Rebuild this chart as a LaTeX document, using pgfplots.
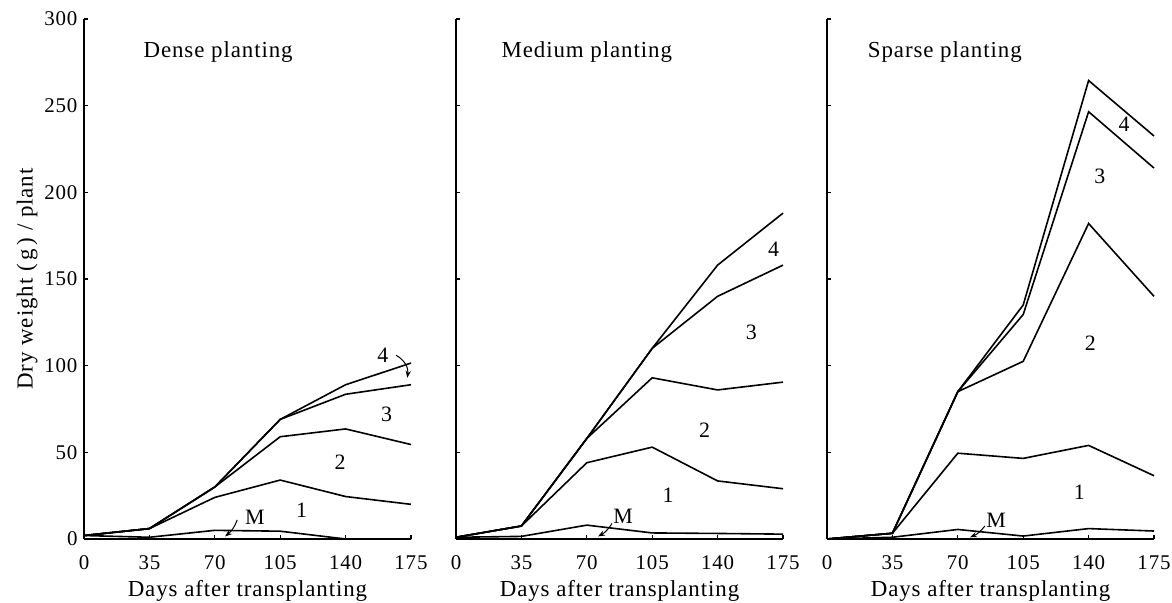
\documentclass[border=0pt]{standalone}
\usepackage{fontspec}
\setmainfont{Liberation Serif}[LetterSpace=4]
\usepackage{pgfplots}
\pgfplotsset{compat=1.18}
\usetikzlibrary{arrows.meta}

\pgfplotstableread{
x   M    a    b    c    d
0   2    2    2    2    2
35  1    6    6    6    6
70  5    24   30   30   30
105 4.5  34   59   69   69
140 0    24.5 63.5 83.5 89
175 0    20   54.5 89   101.5
}\dense
\pgfplotstableread{
x   M    a    b    c    d
0   1    1    1    1    1
35  1.5  7.5  7.5  7.5  7.5
70  8    44   58   58   58
105 3.5  53   93   110  110
140 3.2  33.5 86   140  158
175 2.8  29   90.5 158  188
}\medium
\pgfplotstableread{
x   M    a    b    c     d
0   0    0    0    0     0
35  1    3.3  3.3  3.3   3.3
70  5.5  49.5 85   85    85
105 1.7  46.5 102.5 129.5 135
140 6    54   182  246.5 264.5
175 4.6  36.5 140  214   232.5
}\sparse

\pgfplotscreateplotcyclelist{blk}{black,line width=1.6bp\\}
\pgfplotsset{
  panel/.style={
    scale only axis, width=327bp, height=520bp,
    xmin=0, xmax=175, ymin=0, ymax=300,
    axis lines=left, axis line style={-, line width=1.6bp},
    xtick={0,35,70,105,140,175}, ytick={0,50,...,300},
    major tick length=4bp, tick style={line width=1.2bp, black},
    tick align=inside,
    /pgf/number format/assume math mode=true,
    ticklabel style={font=\fontsize{21}{24}\selectfont},
    xticklabel style={yshift=-13bp},
    yticklabel style={xshift=-3bp},
    label style={font=\fontsize{23}{26}\selectfont},
    xlabel={Days after transplanting},
    xlabel style={yshift=-4bp},
    cycle list name=blk,
    clip=false,
  },
}
\newcommand\ttl{\fontsize{23}{26}\selectfont}
\newcommand\lbl{\fontsize{22}{25}\selectfont}

\begin{document}
\begin{tikzpicture}
% Dense
\begin{axis}[panel, ylabel={Dry weight~(\,g\,)~/~plant}]
\foreach \c in {M,a,b,c,d}{\addplot table[x=x,y=\c]{\dense};}
\node[anchor=west,font=\ttl] at (axis cs:30,281) {Dense planting};
\node[font=\lbl] at (axis cs:160,106) {4};
\node[font=\lbl] at (axis cs:162,72) {3};
\node[font=\lbl] at (axis cs:137,44) {2};
\node[font=\lbl] at (axis cs:116.5,16.5) {1};
\node[font=\lbl] at (axis cs:91.5,12.5) {M};
\draw[-{Stealth[length=7bp]}, line width=1bp] (axis cs:167,106) to[bend left=35] (axis cs:173,93);
\draw[-{Stealth[length=7bp]}, line width=1bp] (axis cs:82,11) to[bend left=15] (axis cs:75.5,1.5);
\end{axis}
% Medium
\begin{axis}[panel, at={(372bp,0)}, yticklabels={}]
\foreach \c in {M,a,b,c,d}{\addplot table[x=x,y=\c]{\medium};}
\node[anchor=west,font=\ttl] at (axis cs:22.5,281) {Medium planting};
\node[font=\lbl] at (axis cs:170,167) {4};
\node[font=\lbl] at (axis cs:158,119) {3};
\node[font=\lbl] at (axis cs:133,63) {2};
\node[font=\lbl] at (axis cs:113.5,25.5) {1};
\node[font=\lbl] at (axis cs:89.5,13) {M};
\draw[-{Stealth[length=7bp]}, line width=1bp] (axis cs:83.5,9) to[bend left=15] (axis cs:76,1.5);
\end{axis}
% Sparse
\begin{axis}[panel, at={(743bp,0)}, yticklabels={}]
\foreach \c in {M,a,b,c,d}{\addplot table[x=x,y=\c]{\sparse};}
\node[anchor=west,font=\ttl] at (axis cs:20,281) {Sparse planting};
\node[font=\lbl] at (axis cs:159,239) {4};
\node[font=\lbl] at (axis cs:146,209) {3};
\node[font=\lbl] at (axis cs:141,113) {2};
\node[font=\lbl] at (axis cs:135,27) {1};
\node[font=\lbl] at (axis cs:90.5,11) {M};
\draw[-{Stealth[length=7bp]}, line width=1bp] (axis cs:84.5,7.5) to[bend left=15] (axis cs:76.5,1);
\end{axis}
\pgfresetboundingbox
\path[use as bounding box] (-84bp,-64bp) rectangle (1088bp,539bp);
\end{tikzpicture}
\end{document}
